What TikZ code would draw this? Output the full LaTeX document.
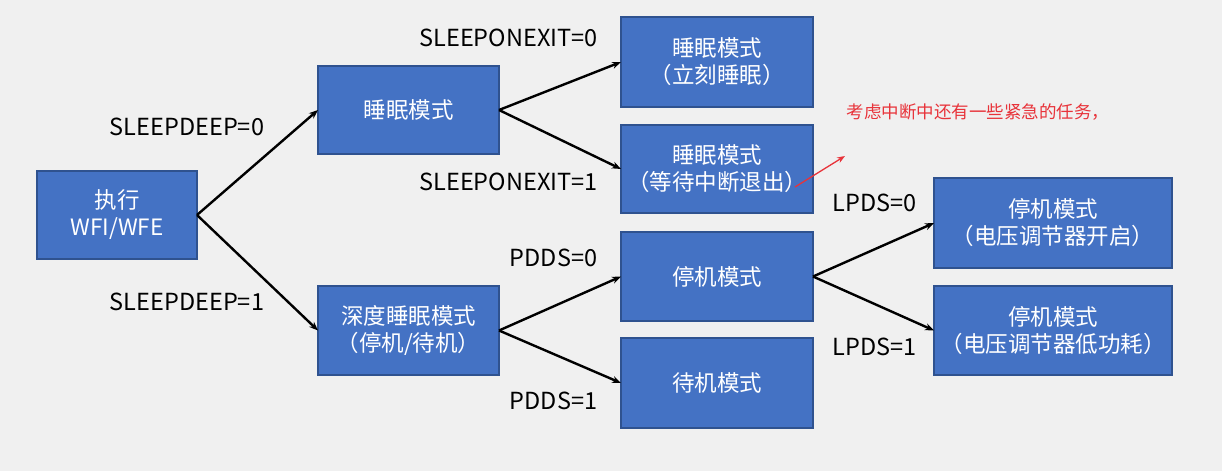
\documentclass[tikz,border=0pt]{standalone}
\usepackage{fontspec}
\setmainfont{Noto Sans CJK SC}
\usetikzlibrary{arrows.meta}
\definecolor{bg}{HTML}{F0F0F0}
\definecolor{boxfill}{HTML}{4472C4}
\definecolor{boxline}{HTML}{2F528F}
\definecolor{note}{HTML}{E8333A}
\tikzset{
  modebox/.style={draw=boxline, fill=boxfill, line width=1.5pt, text=white,
    inner sep=0pt, outer sep=0pt, align=center,
    font=\fontsize{22.5}{27}\selectfont},
  cond/.style={inner sep=0pt, text=black, font=\fontsize{23.5}{27}\selectfont},
  flow/.style={-{Stealth[length=9pt,width=7pt]}, line width=2.4pt, black},
  notearrow/.style={-{Stealth[length=8pt,width=6pt]}, line width=1.3pt, note},
}
\begin{document}
\begin{tikzpicture}[x=1pt,y=-1pt]
\fill[bg] (0,0) rectangle (1222,471);
\useasboundingbox (0,0) rectangle (1222,471);

\node[modebox, minimum width=160pt, minimum height=88pt] (A) at (117,215) {执行\\WFI/WFE};
\node[modebox, minimum width=181pt, minimum height=88pt] (B) at (408.5,110) {睡眠模式};
\node[modebox, minimum width=181pt, minimum height=89pt] (C) at (408.5,330.5) {深度睡眠模式\\（停机/待机）};
\node[modebox, minimum width=192pt, minimum height=90pt] (D) at (717,62) {睡眠模式\\（立刻睡眠）};
\node[modebox, minimum width=192pt, minimum height=88pt] (E) at (717,169) {睡眠模式\\（等待中断退出）};
\node[modebox, minimum width=192pt, minimum height=89pt] (F) at (717,276.5) {停机模式};
\node[modebox, minimum width=192pt, minimum height=90pt] (G) at (717,383) {待机模式};
\node[modebox, minimum width=238pt, minimum height=90pt] (H) at (1053,223) {停机模式\\（电压调节器开启）};
\node[modebox, minimum width=238pt, minimum height=89pt] (I) at (1053,330.5) {停机模式\\（电压调节器低功耗）};

\draw[flow] (A.east) -- (B.west);
\draw[flow] (A.east) -- (C.west);
\draw[flow] (B.east) -- (D.west);
\draw[flow] (B.east) -- (E.west);
\draw[flow] (C.east) -- (F.west);
\draw[flow] (C.east) -- (G.west);
\draw[flow] (F.east) -- (H.west);
\draw[flow] (F.east) -- (I.west);

\node[cond] (l1) at (187,127) {SLEEPDEEP=0};
\node[cond] (l2) at (187,302) {SLEEPDEEP=1};
\node[cond] (l3) at (508.5,38) {SLEEPONEXIT=0};
\node[cond] (l4) at (508.5,182) {SLEEPONEXIT=1};
\node[cond] (l5) at (553.5,258) {PDDS=0};
\node[cond] (l6) at (553.5,401) {PDDS=1};
\node[cond] (l7) at (874.5,203) {LPDS=0};
\node[cond] (l8) at (874.5,347) {LPDS=1};

\node[inner sep=0pt, text=note, font=\fontsize{17.5}{21}\selectfont] (n) at (978,112) {考虑中断中还有一些紧急的任务，};
\coordinate (ns) at (795,187);
\coordinate (ne) at (845,156);
\draw[notearrow] (ns) -- (ne);
\end{tikzpicture}
\end{document}
